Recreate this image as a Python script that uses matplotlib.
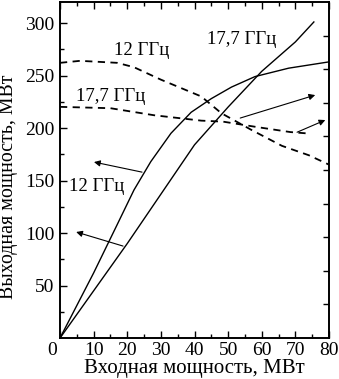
import matplotlib
matplotlib.use("Agg")
import matplotlib.pyplot as plt
import matplotlib.transforms as mtransforms

plt.rcParams['font.family'] = ['Liberation Serif', 'DejaVu Serif']

# Output power (left axis, MW) vs input power (MW)
x_12_solid = [0, 10, 17, 22, 27, 33, 39, 45, 51, 58, 68, 80]
y_12_solid = [0, 62, 108, 141, 168, 195, 215, 228, 239, 249, 257, 263]

x_177_solid = [0, 10, 20, 30, 40, 50, 60, 70, 75.5]
y_177_solid = [0, 45, 90, 137, 184, 220, 254, 282, 301]

# Efficiency (right axis, %) vs input power (MW)
x_12_dash = [0, 6, 17, 22, 30, 42, 48, 57, 66, 74, 80]
y_12_dash = [81.9, 82.5, 81.9, 80.6, 76.9, 71.9, 66.9, 61.9, 57.2, 54.4, 51.6]

x_177_dash = [0, 15, 28, 42, 48.5, 58.5, 68.5, 73.5]
y_177_dash = [68.8, 68.4, 66.3, 64.7, 64.4, 62.8, 61.3, 60.9]

x_ticks = [0, 10, 20, 30, 40, 50, 60, 70, 80]
y_ticks = [50, 100, 150, 200, 250, 300]

fig = plt.figure(figsize=(3.39, 3.79), dpi=100)
ax = fig.add_axes([0.177, 0.108, 0.7935, 0.8867])
ax2 = ax.twinx()

ax.plot(x_12_solid, y_12_solid, color='black', lw=1.0)
ax.plot(x_177_solid, y_177_solid, color='black', lw=1.0)
ax2.plot(x_12_dash, y_12_dash, color='black', lw=1.3, linestyle=(0, (4, 3)))
ax2.plot(x_177_dash, y_177_dash, color='black', lw=1.3, linestyle=(0, (4, 3)))

ax.set_xlim(0, 80)
ax.set_ylim(0, 320)
ax2.set_ylim(0, 100)

ax.set_xticks(x_ticks)
ax.set_xticks([5, 15, 25, 35, 45, 55, 65, 75], minor=True)
ax.set_yticks(y_ticks)
ax.set_yticks([25, 75, 125, 175, 225, 275], minor=True)
ax2.set_yticks([10, 20, 30, 40, 50, 60, 70, 80, 90])
ax2.set_yticklabels([])

ax.tick_params(axis='both', which='both', direction='in', top=True, labelsize=14, width=1)
ax.tick_params(axis='both', which='major', length=5)
ax.tick_params(axis='x', which='major', pad=3)
ax.tick_params(axis='y', which='major', pad=4)
ax.tick_params(axis='both', which='minor', length=3)
ax.tick_params(axis='y', right=False)
ax2.tick_params(axis='y', direction='in', length=4, width=1)

for a in (ax, ax2):
    for s in a.spines.values():
        s.set_linewidth(1.2)

# shift the "0" x tick label slightly left, as in the original
fig.canvas.draw()
lbl0 = ax.get_xticklabels()[0]
lbl0.set_transform(lbl0.get_transform() + mtransforms.ScaledTranslation(-8 / 100, 0, fig.dpi_scale_trans))

ax.set_xlabel('Входная мощность, МВт', fontsize=15, labelpad=0)
ax.set_ylabel('Выходная мощность, МВт', fontsize=14.3)
ax.yaxis.set_label_coords(-0.155, 0.45)

ax.text(53.9, 284, '17,7 ГГц', fontsize=13.5, ha='center', va='center')
ax.text(24.4, 274, '12 ГГц', fontsize=13.5, ha='center', va='center')
ax.text(15.2, 230, '17,7 ГГц', fontsize=13.5, ha='center', va='center')
ax.text(11.0, 144, '12 ГГц', fontsize=13.5, ha='center', va='center')

arrow = dict(arrowstyle='-|>', color='black', lw=0.8, mutation_scale=9, shrinkA=0, shrinkB=0)
ax.annotate('', xy=(10.1, 167.6), xytext=(24.4, 158), arrowprops=arrow)
ax.annotate('', xy=(4.8, 101), xytext=(18.75, 87.6), arrowprops=arrow)
ax.annotate('', xy=(75.9, 231.4), xytext=(53.6, 209.5), arrowprops=arrow)
ax.annotate('', xy=(78.9, 207.6), xytext=(70.5, 196), arrowprops=arrow)

fig.savefig('out.png', dpi=100)
